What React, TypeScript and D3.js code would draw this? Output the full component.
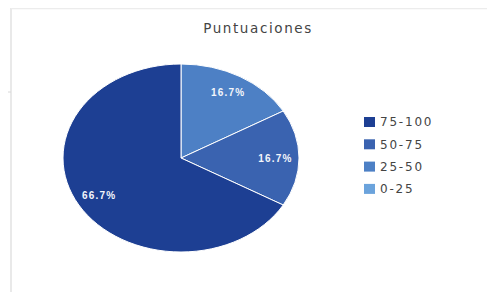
import React, { useEffect, useRef } from "react";
import * as d3 from "d3";

const labels = ["25-50", "50-75", "75-100", "0-25"];
const values = [1, 1, 4, 0];
const legendOrder = ["75-100", "50-75", "25-50", "0-25"];
const colors: Record<string, string> = {
  "75-100": "#1d3f93",
  "50-75": "#3a63b0",
  "25-50": "#4d80c5",
  "0-25": "#6ba3dc",
};

const App = () => {
  const ref = useRef<HTMLDivElement>(null);

  useEffect(() => {
    const width = 495;
    const height = 300;
    d3.select(ref.current).select("svg").remove();

    const svg = d3
      .select(ref.current)
      .append("svg")
      .attr("width", width)
      .attr("height", height)
      .style("display", "block")
      .style("font-family", "Arial, 'Liberation Sans', sans-serif");

    svg.append("rect").attr("width", width).attr("height", height).attr("fill", "#fff");

    // frame lines
    svg.append("line").attr("x1", 11).attr("x2", 11).attr("y1", 8).attr("y2", 300)
      .attr("stroke", "#e2e2e2").attr("stroke-width", 1.5);
    svg.append("line").attr("x1", 11).attr("x2", 495).attr("y1", 8.5).attr("y2", 8.5)
      .attr("stroke", "#ececec").attr("stroke-width", 1.5);
    svg.append("line").attr("x1", 5).attr("x2", 11).attr("y1", 92).attr("y2", 92)
      .attr("stroke", "#d8d8d8");
    svg.append("rect").attr("x", 3).attr("y", 25).attr("width", 2).attr("height", 6).attr("fill", "#333");

    svg
      .append("text")
      .attr("x", 258)
      .attr("y", 33)
      .attr("text-anchor", "middle")
      .style("font-family", "'DejaVu Sans', sans-serif")
      .style("font-size", "13.5px")
      .style("letter-spacing", "1.6px")
      .style("fill", "#444")
      .text("Puntuaciones");

    const total = d3.sum(values);
    const pie = d3.pie<number>().sort(null).value((d) => d);
    const arcs = pie(values);
    const r = 100;
    const arc = d3.arc<d3.PieArcDatum<number>>().innerRadius(0).outerRadius(r);

    const g = svg.append("g").attr("transform", "translate(181,158) scale(1.18,0.94)");

    g.selectAll("path")
      .data(arcs.filter((a) => a.value > 0))
      .enter()
      .append("path")
      .attr("d", arc)
      .attr("fill", (d) => colors[labels[d.index]])
      .attr("stroke", "#fff")
      .attr("stroke-width", 1)
      .attr("vector-effect", "non-scaling-stroke");

    const labelArc = d3.arc<d3.PieArcDatum<number>>().innerRadius(r * 0.8).outerRadius(r * 0.8);
    svg
      .append("g")
      .selectAll("text")
      .data(arcs.filter((a) => a.value > 0))
      .enter()
      .append("text")
      .attr("x", (d) => 181 + labelArc.centroid(d)[0] * 1.18)
      .attr("y", (d) => 158 + labelArc.centroid(d)[1] * 0.94)
      .attr("dy", "0.35em")
      .attr("text-anchor", "middle")
      .style("font-size", "10px")
      .style("font-weight", "bold")
      .style("letter-spacing", "1.2px")
      .style("fill", "#f4f6fb")
      .text((d) => ((d.value / total) * 100).toFixed(1) + "%");

    const legend = svg.append("g").attr("transform", "translate(364,122)");
    const items = legend
      .selectAll("g")
      .data(legendOrder)
      .enter()
      .append("g")
      .attr("transform", (d, i) => `translate(0,${i * 22.3})`);
    items.append("rect").attr("x", 0).attr("y", -5).attr("width", 11).attr("height", 10)
      .attr("fill", (d) => colors[d]);
    items.append("text").attr("x", 16).attr("y", 0).attr("dy", "0.35em")
      .style("font-family", "'DejaVu Sans', sans-serif")
      .style("font-size", "12px").style("letter-spacing", "1.8px")
      .style("fill", "#444").text((d) => d);
  }, []);

  return <div ref={ref} style={{ margin: -8 }}></div>;
};

export default App;
